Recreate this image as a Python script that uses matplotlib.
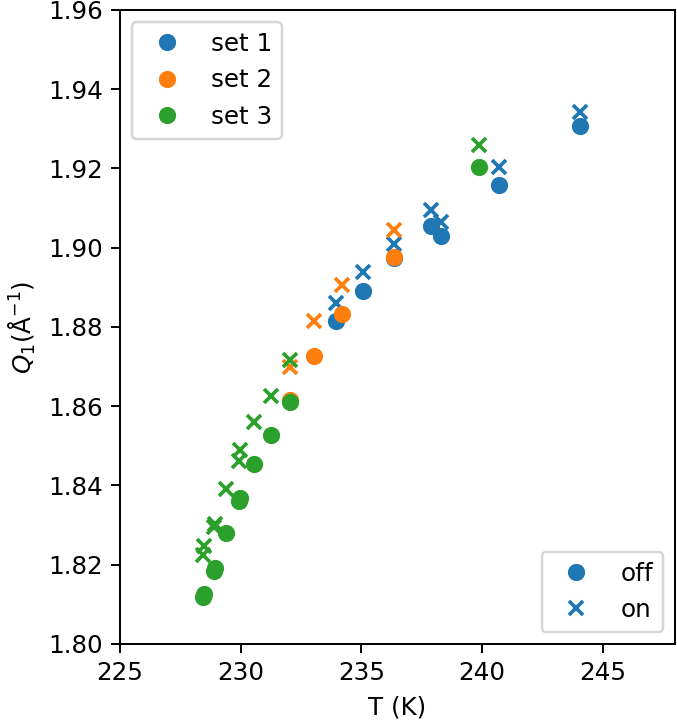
import numpy as np
import matplotlib
matplotlib.use("Agg")
import matplotlib.pyplot as plt

# set 1 (blue)
t1 = [233.97, 235.05, 236.35, 237.88, 238.32, 240.71, 244.05]
off1 = [1.8814, 1.8890, 1.8975, 1.9054, 1.9029, 1.9159, 1.9306]
on1 = [1.8860, 1.8939, 1.9010, 1.9094, 1.9064, 1.9204, 1.9342]

# set 2 (orange)
t2 = [232.05, 233.05, 234.20, 236.35]
off2 = [1.8616, 1.8726, 1.8833, 1.8977]
on2 = [1.8699, 1.8816, 1.8907, 1.9045]

# set 3 (green)
t3 = [228.45, 228.50, 228.88, 228.95, 229.40, 229.92, 229.96, 230.55, 231.25, 232.05, 239.88]
off3 = [1.8118, 1.8125, 1.8185, 1.8192, 1.8281, 1.8362, 1.8368, 1.8454, 1.8528, 1.8610, 1.9203]
on3 = [1.8225, 1.8246, 1.8295, 1.8303, 1.8391, 1.8462, 1.8490, 1.8559, 1.8626, 1.8717, 1.9260]

sets = [(t1, off1, on1, 'C0', 'set 1'),
        (t2, off2, on2, 'C1', 'set 2'),
        (t3, off3, on3, 'C2', 'set 3')]

dpi = 177
fig = plt.figure(figsize=(677 / dpi, 723 / dpi), dpi=dpi)
ax = fig.add_axes([0.1773, 0.1093, 0.8197, 0.8769])

set_handles = []
for t, off, on, c, lab in sets:
    h, = ax.plot(t, off, 'o', color=c, label=lab)
    ax.plot(t, on, 'x', color=c, mew=1.5)
    set_handles.append(h)

ax.set_xlim(225, 248)
ax.set_ylim(1.80, 1.96)
ax.set_xticks([225, 230, 235, 240, 245])
ax.set_yticks(np.arange(1.80, 1.961, 0.02))
ax.set_xlabel("T (K)")
ax.set_ylabel(r"$Q_1(\mathrm{\AA}^{-1})$")

leg1 = ax.legend(handles=set_handles, loc='upper left')
ax.add_artist(leg1)
h_off, = ax.plot([], [], 'o', color='C0', label='off')
h_on, = ax.plot([], [], 'x', color='C0', mew=1.5, label='on')
ax.legend(handles=[h_off, h_on], loc='lower right')

fig.savefig("out.png", dpi=dpi)
